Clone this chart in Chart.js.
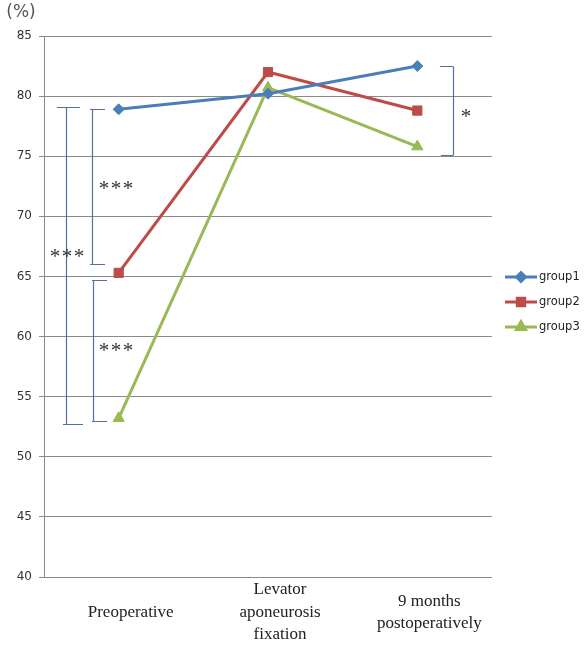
<!DOCTYPE html>
<html>
<head>
<meta charset="utf-8">
<script src="https://cdn.jsdelivr.net/npm/chart.js@4/dist/chart.umd.min.js"></script>
<style>
  html, body { margin: 0; padding: 0; background: #fff; }
  #wrap { width: 584px; height: 647px; position: relative; }
</style>
</head>
<body>
<div id="wrap"><canvas id="chart"></canvas></div>
<script>
// categories and series
const categories = [
    ['Preoperative'],
    ['Levator', 'aponeurosis', 'fixation'],
    ['9 months', 'postoperatively']
];
const group1 = [78.9, 80.2, 82.5];
const group2 = [65.3, 82.0, 78.8];
const group3 = [53.2, 80.7, 75.8];

// significance brackets (values on the y scale)
const brackets = [
    { from: 79.1, to: 52.75, label: '***', at: 67.0 },
    { from: 78.9, to: 66.0, label: '***', at: 72.7 },
    { from: 64.7, to: 53.0, label: '***', at: 59.2 },
    { from: 82.5, to: 75.1, label: '*', at: 78.7 }
];

const colors = { group1: '#4A7EBB', group2: '#BE4B48', group3: '#98B954' };
const markers = { group1: ['rectRot', 5.5], group2: ['rect', 6.5], group3: ['triangle', 6.5] };

// pixel styling of the brackets: vertical x, top tick [x0,x1], bottom tick [x0,x1], text x
const bracketStyle = [
    { x: 66, top: [57, 80], bottom: [63, 83], tx: 67 },
    { x: 92, top: [90, 105], bottom: [90, 105], tx: 116 },
    { x: 93, top: [92, 107], bottom: [92, 107], tx: 116 },
    { x: 453, top: [440, 453], bottom: [441, 453], tx: 466 }
];

const bracketPlugin = {
    id: 'brackets',
    afterDatasetsDraw(chart) {
        const ctx = chart.ctx;
        const y = chart.scales.y;
        ctx.save();
        ctx.strokeStyle = '#5171A5';
        ctx.lineWidth = 1.2;
        brackets.forEach((b, i) => {
            const s = bracketStyle[i];
            const y0 = Math.round(y.getPixelForValue(b.from)) + 0.5;
            const y1 = Math.round(y.getPixelForValue(b.to)) + 0.5;
            ctx.beginPath();
            ctx.moveTo(s.x + 0.5, y0);
            ctx.lineTo(s.x + 0.5, y1);
            ctx.moveTo(s.top[0], y0);
            ctx.lineTo(s.top[1], y0);
            ctx.moveTo(s.bottom[0], y1);
            ctx.lineTo(s.bottom[1], y1);
            ctx.stroke();

            ctx.fillStyle = '#333';
            ctx.font = '21px "Liberation Serif", "Times New Roman", serif';
            ctx.textAlign = 'center';
            ctx.textBaseline = 'alphabetic';
            const ty = y.getPixelForValue(b.at) + 11;
            const n = b.label.length;
            for (let k = 0; k < n; k++) {
                ctx.fillText('*', s.tx + (k - (n - 1) / 2) * 12, ty);
            }
        });
        ctx.restore();
    }
};

const extrasPlugin = {
    id: 'extras',
    afterDraw(chart) {
        const ctx = chart.ctx;
        const area = chart.chartArea;
        ctx.save();
        // unit label
        ctx.fillStyle = '#555';
        ctx.font = '17px "DejaVu Sans", sans-serif';
        ctx.textAlign = 'center';
        ctx.textBaseline = 'middle';
        ctx.fillText('(%)', 21, 13);

        // legend: line with marker
        chart.data.datasets.forEach((ds, i) => {
            const cy = area.top + 241 + i * 25;
            const x0 = area.right + 13;
            ctx.strokeStyle = ds.borderColor;
            ctx.lineWidth = 3;
            ctx.beginPath();
            ctx.moveTo(x0, cy);
            ctx.lineTo(x0 + 32, cy);
            ctx.stroke();
            ctx.fillStyle = ds.borderColor;
            Chart.helpers.drawPoint(ctx, {
                pointStyle: ds.pointStyle,
                radius: ds.pointRadius * 0.8,
                rotation: 0,
                borderWidth: 1
            }, x0 + 16, cy);
            ctx.fillStyle = '#222';
            ctx.font = '11.5px "DejaVu Sans", sans-serif';
            ctx.textAlign = 'left';
            ctx.textBaseline = 'middle';
            ctx.fillText(ds.label, x0 + 34, cy);
        });
        ctx.restore();
    }
};

function makeSet(name, values) {
    return {
        label: name,
        data: values,
        borderColor: colors[name],
        backgroundColor: colors[name],
        borderWidth: 3,
        pointStyle: markers[name][0],
        pointRadius: markers[name][1],
        pointBorderWidth: 1,
        tension: 0
    };
}

new Chart(document.getElementById('chart'), {
    type: 'line',
    data: {
        labels: categories,
        datasets: [
            makeSet('group1', group1),
            makeSet('group2', group2),
            makeSet('group3', group3)
        ]
    },
    options: {
        responsive: true,
        maintainAspectRatio: false,
        animation: false,
        layout: { padding: { top: 36, right: 92, bottom: 0, left: 0 } },
        plugins: {
            legend: { display: false },
            tooltip: { enabled: false }
        },
        scales: {
            x: {
                offset: true,
                grid: { display: false },
                border: { display: false },
                ticks: {
                    color: '#222',
                    font: { family: '"Liberation Serif", "Times New Roman", serif', size: 17, lineHeight: 1.3 },
                    crossAlign: 'center',
                    padding: 5,
                    labelOffset: 12,
                    maxRotation: 0,
                    autoSkip: false
                },
                afterFit(scale) { scale.height = 70; }
            },
            y: {
                min: 40,
                max: 85,
                grid: { color: '#8a8a8a', tickLength: 5, lineWidth: 1 },
                border: { color: '#8a8a8a' },
                ticks: {
                    stepSize: 5,
                    color: '#333',
                    padding: 7,
                    font: { family: '"DejaVu Sans", sans-serif', size: 12 }
                },
                afterFit(scale) { scale.width = 44; }
            }
        }
    },
    plugins: [bracketPlugin, extrasPlugin]
});
</script>
</body>
</html>
